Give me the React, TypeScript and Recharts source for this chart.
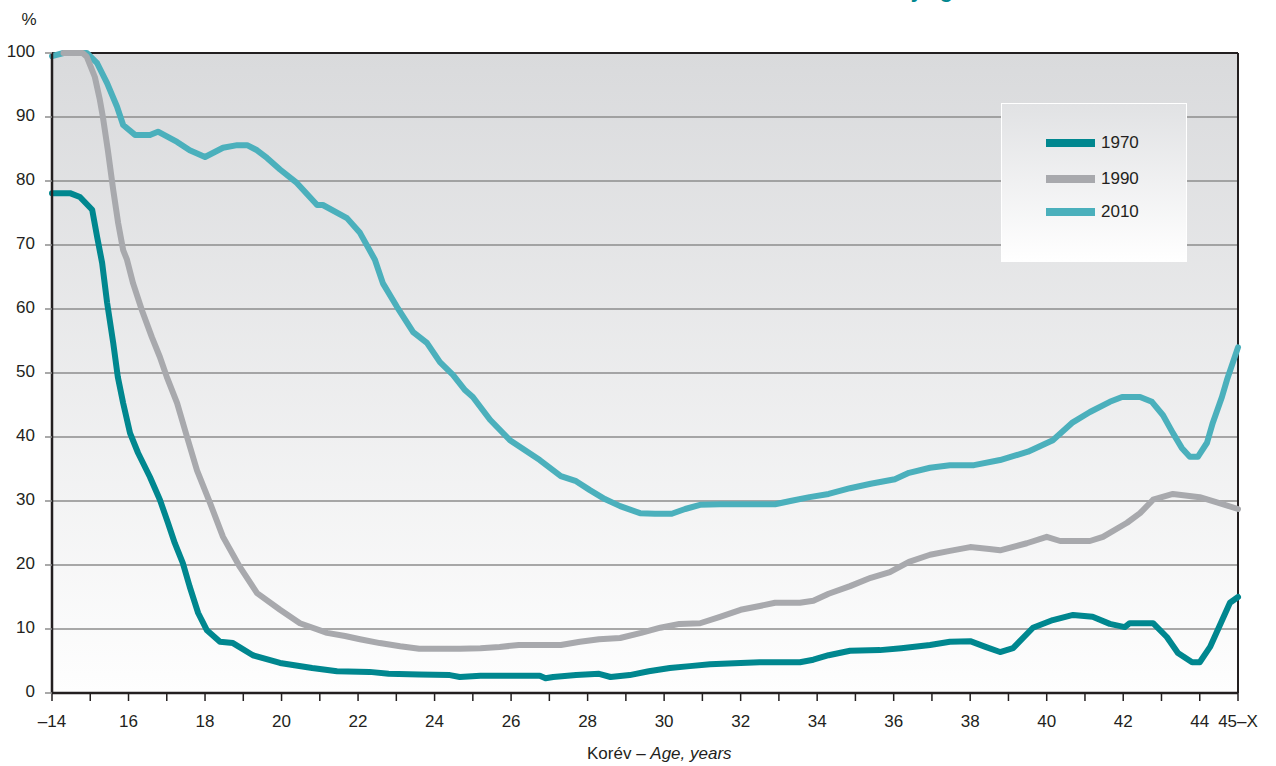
import React from 'react';
import { LineChart, Line, XAxis, YAxis, CartesianGrid, ReferenceLine, Legend } from 'recharts';

const ages1970 = [14, 14.47, 14.73, 15.05, 15.18, 15.31, 15.44, 15.6, 15.72, 15.86, 16.04, 16.25, 16.56, 16.82, 17.03, 17.21, 17.42, 17.6, 17.82, 18.05, 18.39, 18.73, 19.25, 19.96, 20.8, 21.45, 22.3, 22.8, 23.6, 24.4, 24.66, 25.2, 26.75, 26.9, 27.1, 27.7, 28.3, 28.6, 29.1, 29.6, 30.15, 30.67, 31.2, 32.0, 32.5, 33.55, 33.9, 34.3, 34.86, 35.64, 36.2, 36.95, 37.47, 38.0, 38.4, 38.78, 39.12, 39.64, 40.16, 40.69, 41.2, 41.65, 42.04, 42.17, 42.78, 43.14, 43.43, 43.8, 44.0, 44.27, 44.79, 45];
const values1970 = [78.1, 78.1, 77.5, 75.5, 71.25, 67.2, 61, 54.7, 49.4, 45.3, 40.6, 37.5, 33.75, 30.2, 26.6, 23.4, 20.3, 16.6, 12.5, 9.8, 8, 7.8, 5.9, 4.7, 3.9, 3.4, 3.3, 3.0, 2.9, 2.8, 2.5, 2.7, 2.7, 2.3, 2.5, 2.8, 3, 2.5, 2.8, 3.4, 3.9, 4.2, 4.5, 4.7, 4.8, 4.8, 5.2, 5.9, 6.6, 6.7, 7, 7.5, 8, 8.1, 7.2, 6.4, 7.0, 10.2, 11.4, 12.2, 11.9, 10.8, 10.3, 10.9, 10.9, 8.75, 6.25, 4.8, 4.8, 7.2, 14.1, 15];

const ages1990 = [14.3, 14.8, 14.91, 15.12, 15.25, 15.33, 15.46, 15.6, 15.73, 15.86, 15.96, 16.12, 16.35, 16.61, 16.82, 17.0, 17.27, 17.53, 17.79, 18.13, 18.47, 18.91, 19.36, 19.96, 20.48, 21.19, 21.66, 22.05, 22.57, 23.1, 23.6, 24.66, 25.2, 25.7, 26.2, 27.3, 27.8, 28.3, 28.85, 29.4, 29.9, 30.4, 30.94, 31.46, 32.0, 32.5, 32.9, 33.55, 33.9, 34.3, 34.86, 35.4, 35.9, 36.4, 36.95, 37.47, 38.0, 38.5, 38.78, 39.48, 40.0, 40.35, 41.13, 41.47, 42.1, 42.44, 42.78, 43.3, 44.0, 44.45, 45];
const values1990 = [100, 100, 99.4, 96.25, 92.7, 90, 84.8, 78.6, 73.4, 69.2, 67.7, 64, 59.8, 55.6, 52.5, 49.4, 45.3, 40, 34.8, 29.7, 24.4, 19.7, 15.6, 13, 10.9, 9.4, 8.9, 8.4, 7.8, 7.3, 6.9, 6.9, 7, 7.2, 7.5, 7.5, 8, 8.4, 8.6, 9.4, 10.2, 10.8, 10.9, 11.9, 13, 13.6, 14.1, 14.1, 14.4, 15.5, 16.7, 18, 18.9, 20.5, 21.6, 22.2, 22.8, 22.5, 22.3, 23.4, 24.4, 23.75, 23.75, 24.4, 26.6, 28.1, 30.2, 31.1, 30.6, 29.8, 28.75];

const ages2010 = [14, 14.3, 14.91, 15.18, 15.44, 15.7, 15.86, 16.17, 16.56, 16.77, 17.27, 17.6, 18.0, 18.47, 18.84, 19.1, 19.36, 19.62, 19.96, 20.4, 20.93, 21.08, 21.71, 22.05, 22.44, 22.65, 23.02, 23.44, 23.8, 24.14, 24.48, 24.8, 25.0, 25.45, 25.97, 26.75, 27.3, 27.7, 28.06, 28.45, 28.85, 29.37, 29.76, 30.2, 30.55, 30.94, 31.46, 32.0, 32.9, 33.3, 33.8, 34.3, 34.86, 35.4, 36.03, 36.4, 36.95, 37.47, 38.1, 38.78, 39.51, 40.16, 40.66, 41.13, 41.65, 41.97, 42.44, 42.75, 43.04, 43.3, 43.53, 43.74, 43.95, 44.19, 44.34, 44.58, 44.71, 45];
const values2010 = [99.5, 100, 100, 98.4, 95.3, 91.6, 88.75, 87.2, 87.2, 87.7, 86.1, 84.8, 83.75, 85.2, 85.6, 85.6, 84.8, 83.6, 81.8, 79.7, 76.25, 76.25, 74.2, 71.9, 67.7, 64, 60.3, 56.4, 54.7, 51.7, 49.7, 47.3, 46.25, 42.7, 39.5, 36.4, 33.9, 33.1, 31.7, 30.3, 29.2, 28.1, 28, 28, 28.75, 29.4, 29.5, 29.5, 29.5, 30, 30.6, 31.1, 32, 32.7, 33.4, 34.4, 35.2, 35.6, 35.6, 36.4, 37.7, 39.5, 42.2, 43.9, 45.5, 46.25, 46.25, 45.5, 43.4, 40.6, 38.3, 36.9, 36.9, 39.1, 42.2, 46.25, 48.9, 54];

const seriesNames = ['1970', '1990', '2010'];
const seriesColors = ['#00878F', '#A8A9AD', '#4BB0BC'];

const xTicks = [14, 15, 16, 17, 18, 19, 20, 21, 22, 23, 24, 25, 26, 27, 28, 29, 30, 31, 32, 33, 34, 35, 36, 37, 38, 39, 40, 41, 42, 43, 44, 45];
const yTicks = [0, 10, 20, 30, 40, 50, 60, 70, 80, 90, 100];

const toData = (ages: number[], vals: number[]) => ages.map((a, i) => ({ age: a, value: vals[i] }));
const data1970 = toData(ages1970, values1970);
const data1990 = toData(ages1990, values1990);
const data2010 = toData(ages2010, values2010);

const FONT = '"Liberation Sans", Arial, sans-serif';
const TEXT = '#231F20';
const AXIS = '#231F20';

const xLabel = (v: number) => {
  if (v === 14) return '–14';
  if (v === 45) return '45–X';
  return v % 2 === 0 ? String(v) : '';
};

const LegendBox = () => (
  <div
    style={{
      width: 184,
      height: 157,
      border: '1px solid #FFFFFF',
      background: 'linear-gradient(#E1E2E4, #FFFFFF)',
      position: 'relative',
      fontFamily: FONT,
      fontSize: 17,
      color: TEXT,
    }}
  >
    {seriesNames.map((n, i) => (
      <div key={n} style={{ position: 'absolute', left: 44, top: [28, 64, 97][i], height: 22, display: 'flex', alignItems: 'center' }}>
        <div style={{ width: 49, height: 8, background: seriesColors[i], marginRight: 6 }} />
        <span>{n}</span>
      </div>
    ))}
  </div>
);

const AxisTitle = (props: any) => {
  const vb = props.viewBox;
  return (
    <text x={vb.x + 535} y={vb.y + 66} fontFamily={FONT} fontSize={17} fill={TEXT}>
      Korév – <tspan fontStyle="italic">Age, years</tspan>
    </text>
  );
};

const PercentTitle = () => (
  <text x={29} y={25} textAnchor="middle" fontFamily={FONT} fontSize={17} fill={TEXT}>
    %
  </text>
);

const YTick = (props: any) => {
  const { x, y, payload } = props;
  return (
    <text x={x} y={y - 2.5} dy="0.355em" textAnchor="end" fontFamily={FONT} fontSize={17} fill={TEXT}>
      {payload.value}
    </text>
  );
};

export default function App() {
  return (
    <div style={{ position: 'absolute', left: 0, top: 0, width: 1276, height: 766, background: '#FFFFFF', overflow: 'hidden' }}>
      <div
        style={{
          position: 'absolute',
          left: 898,
          top: -19,
          fontFamily: FONT,
          fontWeight: 'bold',
          fontSize: 21,
          lineHeight: '20px',
          color: '#00878F',
          whiteSpace: 'nowrap',
        }}
      >
        by age
      </div>
      <LineChart width={1276} height={766} margin={{ top: 53, right: 38, bottom: 0, left: 0 }}>
        <defs>
          <linearGradient id="plotBg" x1="0" y1="0" x2="0" y2="1">
            <stop offset="0%" stopColor="#D9DADC" />
            <stop offset="100%" stopColor="#FEFEFE" />
          </linearGradient>
        </defs>
        <CartesianGrid vertical={false} horizontal stroke="#8C8C8C" strokeWidth={1.5} fill="url(#plotBg)" fillOpacity={1} />
        <XAxis
          dataKey="age"
          type="number"
          domain={[14, 45]}
          ticks={xTicks}
          interval={0}
          allowDuplicatedCategory={false}
          tickFormatter={xLabel}
          tick={{ fontSize: 17, fill: TEXT, fontFamily: FONT }}
          tickLine={{ stroke: AXIS, strokeWidth: 1.5 }}
          tickSize={8}
          tickMargin={14}
          axisLine={{ stroke: AXIS, strokeWidth: 2.5 }}
          height={73}
          label={<AxisTitle />}
        />
        <YAxis
          type="number"
          domain={[0, 100]}
          ticks={yTicks}
          interval={0}
          width={52}
          tick={<YTick />}
          tickLine={{ stroke: '#8C8C8C', strokeWidth: 1.5 }}
          tickSize={7}
          tickMargin={10}
          axisLine={{ stroke: AXIS, strokeWidth: 2.5 }}
          label={<PercentTitle />}
        />
        <ReferenceLine y={100} stroke={AXIS} strokeWidth={2} />
        <ReferenceLine x={45} stroke={AXIS} strokeWidth={2} />
        <Legend
          layout="vertical"
          align="center"
          verticalAlign="middle"
          content={<LegendBox />}
          wrapperStyle={{ position: 'absolute', left: 1001, top: 103, width: 186, height: 159, margin: 0 }}
        />
        <Line data={data2010} dataKey="value" name="2010" type="linear" stroke={seriesColors[2]} strokeWidth={6} dot={false} strokeLinejoin="round" strokeLinecap="round" isAnimationActive={false} />
        <Line data={data1990} dataKey="value" name="1990" type="linear" stroke={seriesColors[1]} strokeWidth={6} dot={false} strokeLinejoin="round" strokeLinecap="round" isAnimationActive={false} />
        <Line data={data1970} dataKey="value" name="1970" type="linear" stroke={seriesColors[0]} strokeWidth={6} dot={false} strokeLinejoin="round" strokeLinecap="round" isAnimationActive={false} />
      </LineChart>
    </div>
  );
}
